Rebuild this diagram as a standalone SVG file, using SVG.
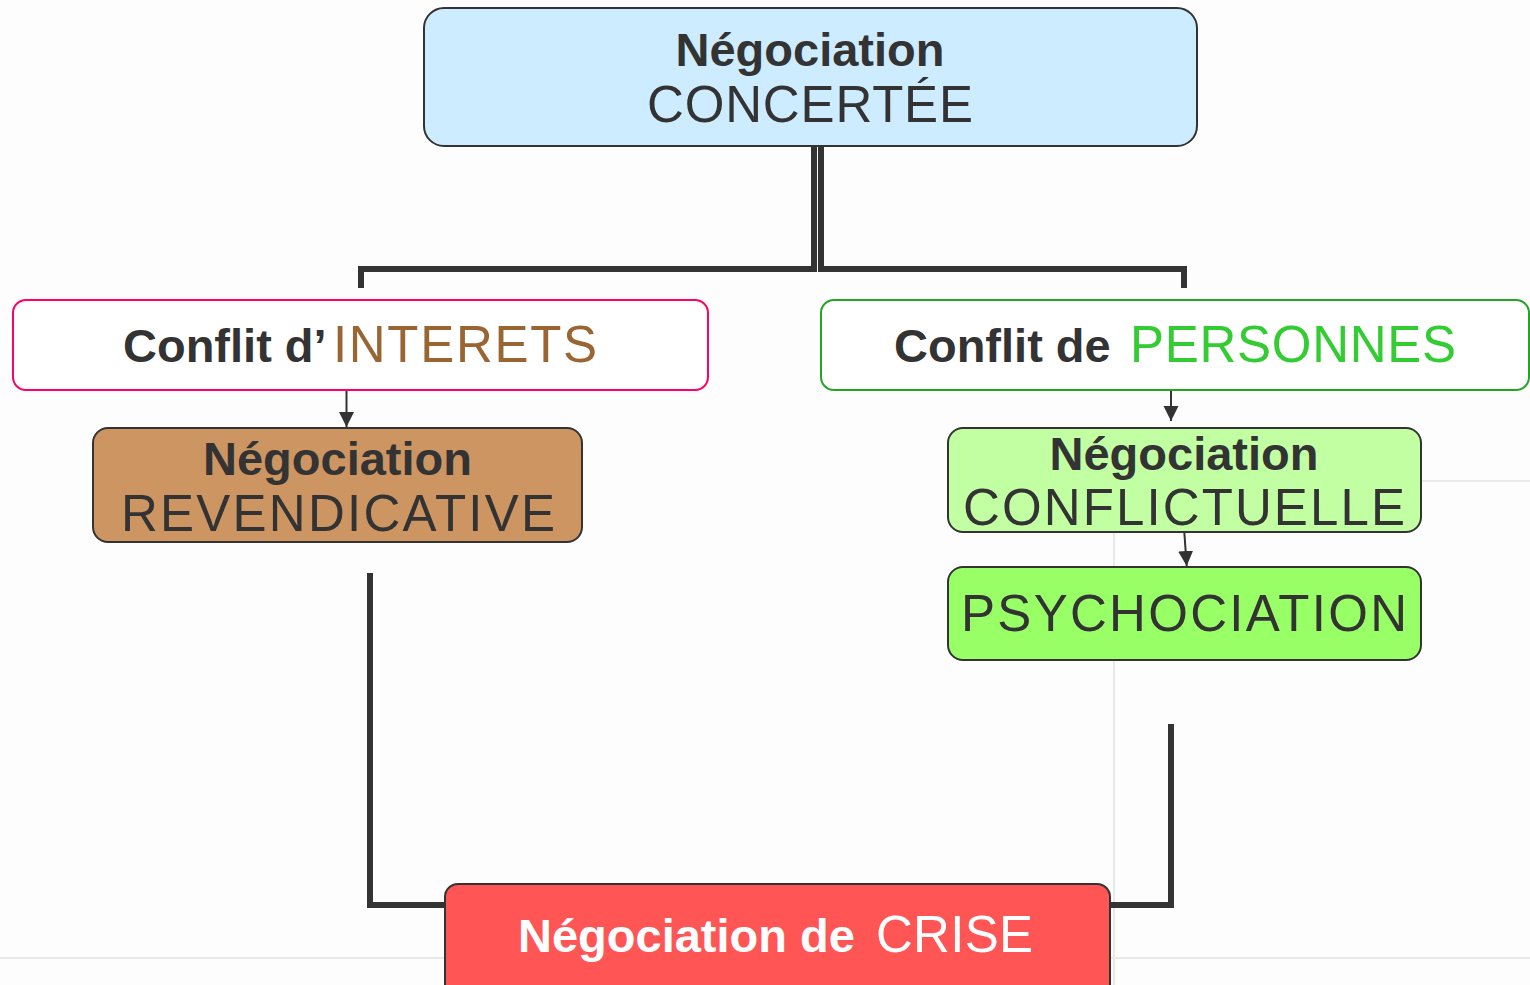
<svg xmlns="http://www.w3.org/2000/svg" width="1530" height="985" viewBox="0 0 1530 985">
<style>
  .box { stroke: #333333; stroke-width: 2; }
  .b { font-family: "Liberation Sans", Arial, sans-serif; font-weight: bold; font-size: 47px; fill: #333333; }
  .r { font-family: "Liberation Sans", Arial, sans-serif; font-weight: normal; font-size: 51px; fill: #333333; }
  .thick { fill: none; stroke: #333333; stroke-width: 6; }
  .thin { fill: none; stroke: #333333; stroke-width: 2; }
  .grid { fill: none; stroke: #e8e8e8; stroke-width: 2; }
</style>
<defs>
  <marker id="arrow" markerUnits="userSpaceOnUse" markerWidth="16" markerHeight="16" refX="15" refY="7.5" orient="auto">
    <path d="M0,0 L15,7.5 L0,15 z" fill="#333333"/>
  </marker>
</defs>
<rect x="0" y="0" width="1530" height="985" fill="#fdfdfd"/>
<g id="background-lines">
  <line class="grid" x1="0" y1="958" x2="1530" y2="958"/>
  <line class="grid" x1="1114" y1="480" x2="1114" y2="985"/>
  <line class="grid" x1="1114" y1="481" x2="1530" y2="481"/>
</g>
<g id="connectors">
  <path class="thick" d="M814,146 L814,269 L361,269 L361,288"/>
  <path class="thick" d="M821,146 L821,269 L1184,269 L1184,288"/>
  <line class="thin" x1="346.5" y1="391" x2="346.5" y2="427" marker-end="url(#arrow)"/>
  <line class="thin" x1="1171" y1="376" x2="1171" y2="421" marker-end="url(#arrow)"/>
  <line class="thin" x1="1184.3" y1="532" x2="1186.7" y2="566" marker-end="url(#arrow)"/>
  <path class="thick" d="M370,573 L370,905 L446,905"/>
  <path class="thick" d="M1171,724 L1171,905 L1109,905"/>
</g>
<g id="node-concertee">
  <rect class="box" x="424" y="8" width="773" height="138" rx="20" fill="#cdecff"/>
  <text class="b" x="810" y="66" text-anchor="middle">Négociation</text>
  <text class="r" x="647" y="122" textLength="326" lengthAdjust="spacing">CONCERTÉE</text>
</g>
<g id="node-interets">
  <rect x="13" y="300" width="695" height="90" rx="13" fill="#ffffff" stroke="#ff0066" stroke-width="2"/>
  <text class="b" y="362"><tspan x="123">Conflit d’</tspan><tspan x="333" class="r" style="fill:#996633" textLength="264" lengthAdjust="spacing">INTERETS</tspan></text>
</g>
<g id="node-personnes">
  <rect x="821" y="300" width="708" height="90" rx="13" fill="#ffffff" stroke="#22a522" stroke-width="2"/>
  <text class="b" y="362"><tspan x="894">Conflit de </tspan><tspan x="1130" class="r" style="fill:#33cc33" textLength="326" lengthAdjust="spacing">PERSONNES</tspan></text>
</g>
<g id="node-revendicative">
  <rect class="box" x="93" y="428" width="489" height="114" rx="15" fill="#cc9562"/>
  <text class="b" x="337.5" y="475" text-anchor="middle">Négociation</text>
  <text class="r" x="121" y="531" textLength="434" lengthAdjust="spacing">REVENDICATIVE</text>
</g>
<g id="node-conflictuelle">
  <rect class="box" x="948" y="428" width="473" height="104" rx="15" fill="#c2ffa3"/>
  <text class="b" x="1184" y="470" text-anchor="middle">Négociation</text>
  <text class="r" x="963" y="525" textLength="442" lengthAdjust="spacing">CONFLICTUELLE</text>
</g>
<g id="node-psychociation">
  <rect class="box" x="948" y="567" width="473" height="93" rx="15" fill="#99ff66"/>
  <text class="r" x="961" y="631" textLength="446" lengthAdjust="spacing">PSYCHOCIATION</text>
</g>
<g id="node-crise">
  <rect class="box" x="445" y="884" width="665" height="120" rx="13" fill="#ff5555"/>
  <text class="b" y="952" style="fill:#ffffff"><tspan x="518">Négociation de </tspan><tspan x="876" class="r" style="fill:#ffffff" textLength="157" lengthAdjust="spacing">CRISE</tspan></text>
</g>
</svg>
